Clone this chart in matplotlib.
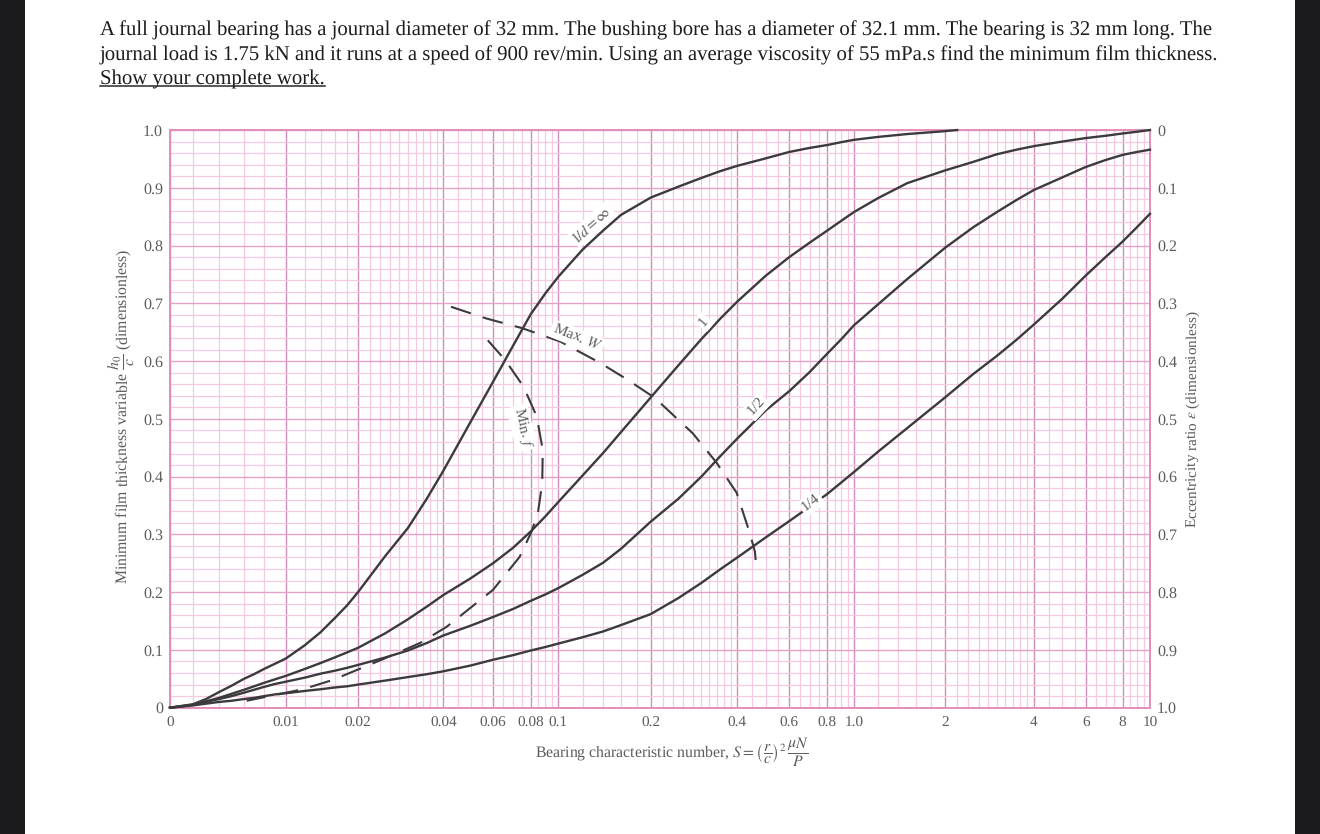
import matplotlib
matplotlib.use("Agg")
import matplotlib.pyplot as plt
import numpy as np
from matplotlib.lines import Line2D
from matplotlib.patches import Rectangle

plt.rcParams['font.family'] = ['Liberation Serif', 'DejaVu Serif']
plt.rcParams['mathtext.fontset'] = 'stix'
plt.rcParams['text.hinting'] = 'no_hinting'

# --- data ---
x_major = [0, 0.01, 0.02, 0.04, 0.06, 0.08, 0.1, 0.2, 0.4, 0.6, 0.8, 1, 2, 4, 6, 8, 10]
x_labels = ['0', '0.01', '0.02', '0.04', '0.06', '0.08', '0.1', '0.2', '0.4', '0.6', '0.8', '1.0',
            '2', '4', '6', '8', '10']
x_minor = [0.002, 0.004, 0.006, 0.008, 0.012, 0.014, 0.016, 0.018,
           0.022, 0.024, 0.026, 0.028, 0.03, 0.032, 0.034, 0.036, 0.038,
           0.045, 0.05, 0.055, 0.065, 0.07, 0.075, 0.085, 0.09, 0.095,
           0.12, 0.14, 0.16, 0.18, 0.22, 0.24, 0.26, 0.28, 0.3, 0.32, 0.34, 0.36, 0.38,
           0.45, 0.5, 0.55, 0.65, 0.7, 0.75, 0.85, 0.9, 0.95,
           1.2, 1.4, 1.6, 1.8, 2.2, 2.4, 2.6, 2.8, 3, 3.2, 3.4, 3.6, 3.8,
           4.5, 5, 5.5, 6.5, 7, 7.5, 8.5, 9, 9.5]
y_major = [0, 0.1, 0.2, 0.3, 0.4, 0.5, 0.6, 0.7, 0.8, 0.9, 1.0]
y_minor = [0.02, 0.04, 0.06, 0.08, 0.12, 0.14, 0.16, 0.18, 0.22, 0.24, 0.26, 0.28,
           0.32, 0.34, 0.36, 0.38, 0.42, 0.44, 0.46, 0.48, 0.52, 0.54, 0.56, 0.58,
           0.62, 0.64, 0.66, 0.68, 0.72, 0.74, 0.76, 0.78, 0.82, 0.84, 0.86, 0.88,
           0.92, 0.94, 0.96, 0.98]
y_left_labels = ['0', '0.1', '0.2', '0.3', '0.4', '0.5', '0.6', '0.7', '0.8', '0.9', '1.0']
y_right_labels = ['1.0', '0.9', '0.8', '0.7', '0.6', '0.5', '0.4', '0.3', '0.2', '0.1', '0']

S = [0, 0.002, 0.003, 0.004, 0.005, 0.006, 0.007, 0.008, 0.009, 0.01,
     0.012, 0.014, 0.016, 0.018, 0.02, 0.025, 0.03, 0.035, 0.04, 0.05,
     0.06, 0.07, 0.08, 0.09, 0.1, 0.12, 0.14, 0.16, 0.2, 0.25,
     0.3, 0.35, 0.4, 0.5, 0.6, 0.7, 0.8, 0.9, 1, 1.2,
     1.5, 2, 2.5, 3, 3.5, 4, 5, 6, 7, 8, 9, 10]
h_inf = [0, 0.006, 0.015, 0.027, 0.038, 0.05, 0.058, 0.067, 0.076, 0.085,
         0.108, 0.131, 0.155, 0.177, 0.2, 0.263, 0.311, 0.362, 0.41, 0.495,
         0.564, 0.627, 0.681, 0.717, 0.746, 0.793, 0.826, 0.853, 0.883, 0.902,
         0.917, 0.929, 0.938, 0.951, 0.962, 0.969, 0.974, 0.979, 0.983, 0.988,
         0.993, 0.998, 1.0]
S_inf = S[:42] + [2.2]
h_1 = [0, 0.005, 0.011, 0.017, 0.024, 0.031, 0.037, 0.043, 0.049, 0.055,
       0.067, 0.0775, 0.087, 0.0957, 0.1036, 0.129, 0.153, 0.175, 0.195, 0.224,
       0.25, 0.277, 0.305, 0.331, 0.356, 0.402, 0.441, 0.477, 0.537, 0.593,
       0.638, 0.674, 0.703, 0.748, 0.78, 0.805, 0.826, 0.843, 0.858, 0.882,
       0.908, 0.93, 0.945, 0.958, 0.966, 0.972, 0.98, 0.986, 0.99, 0.994, 0.997, 1.0]
h_half = [0, 0.005, 0.01, 0.015, 0.02, 0.026, 0.031, 0.036, 0.041, 0.045,
          0.052, 0.059, 0.064, 0.069, 0.074, 0.087, 0.099, 0.112, 0.125, 0.142,
          0.157, 0.171, 0.185, 0.196, 0.207, 0.23, 0.251, 0.275, 0.322, 0.362,
          0.40, 0.436, 0.466, 0.515, 0.548, 0.581, 0.613, 0.638, 0.662, 0.698,
          0.742, 0.796, 0.832, 0.858, 0.879, 0.896, 0.918, 0.936, 0.948, 0.957, 0.962, 0.966]
h_quarter = [0, 0.004, 0.007, 0.01, 0.012, 0.015, 0.017, 0.02, 0.023, 0.025,
             0.029, 0.032, 0.035, 0.037, 0.04, 0.047, 0.053, 0.058, 0.063, 0.073,
             0.083, 0.091, 0.099, 0.105, 0.111, 0.122, 0.132, 0.143, 0.162, 0.19,
             0.216, 0.24, 0.26, 0.295, 0.323, 0.348, 0.37, 0.39, 0.408, 0.443,
             0.484, 0.537, 0.578, 0.609, 0.637, 0.663, 0.708, 0.748, 0.78, 0.807, 0.832, 0.855]

S_maxw = [0.0426, 0.0566, 0.0749, 0.1013, 0.1367, 0.169, 0.207, 0.28, 0.339, 0.398, 0.441, 0.459, 0.465]
h_maxw = [0.694, 0.674, 0.657, 0.634, 0.597, 0.567, 0.536, 0.475, 0.424, 0.372, 0.302, 0.27, 0.235]
S_minf = [0.0575, 0.0658, 0.0757, 0.084, 0.0882, 0.0878, 0.0848, 0.0806, 0.0735, 0.06, 0.0411,
          0.0331, 0.0245, 0.0157, 0.0118, 0.00627]
h_minf = [0.636, 0.602, 0.556, 0.504, 0.446, 0.389, 0.337, 0.305, 0.261, 0.204, 0.140,
          0.112, 0.084, 0.048, 0.032, 0.012]

question = ["A full journal bearing has a journal diameter of 32 mm. The bushing bore has a diameter of 32.1 mm. The bearing is 32 mm long. The",
            "journal load is 1.75 kN and it runs at a speed of 900 rev/min. Using an average viscosity of 55 mPa.s find the minimum film thickness.",
            "Show your complete work."]

W, H = 1320, 834
INK = '#3b3a3d'
LABEL = '#5c5c5c'

# the printed S axis is only roughly logarithmic, so knots are taken from the paper
low_vals = np.array([0, 0.002, 0.004, 0.006, 0.008, 0.01])
low_pos = np.array([170, 193, 219, 244, 264, 285.7])
high_vals = np.log10([0.01, 0.02, 0.04, 0.06, 0.08, 0.1, 0.2, 0.4, 0.6, 0.8, 1, 2, 4, 6, 8, 10])
high_pos = np.array([285.7, 358, 443.3, 493, 530.7, 558.3, 650.7, 737.3, 789.3, 827.3, 854,
                     945, 1033.7, 1085.7, 1122.7, 1150])


def s_forward(x):
    x = np.asarray(x, dtype=float)
    high = np.interp(np.log10(np.clip(x, 1e-4, None)), high_vals, high_pos)
    return np.where(x < 0.01, np.interp(x, low_vals, low_pos), high)


def s_inverse(p):
    p = np.asarray(p, dtype=float)
    high = 10 ** np.interp(p, high_pos, high_vals)
    return np.where(p < 285.7, np.interp(p, low_pos, low_vals), high)


fig = plt.figure(figsize=(W / 100, H / 100), dpi=100, facecolor='white')
ax = fig.add_axes([170 / W, 1 - 707.7 / H, (1150 - 170) / W, (707.7 - 130) / H])
ax.set_xscale('function', functions=(s_forward, s_inverse))
ax.set_xlim(0, 10)
ax.set_ylim(0, 1)

ax.set_xticks(x_major, x_labels)
ax.set_xticks(x_minor, minor=True)
ax.set_yticks(y_major, y_left_labels)
ax.set_yticks(y_minor, minor=True)
ax.set_axisbelow(True)
ax.grid(which='minor', color='#f5cae0', lw=0.9)
ax.grid(which='major', axis='y', color='#e5a2c7', lw=1.0)
ax.grid(which='major', axis='x', color='#d08fba', lw=1.0)
ax.tick_params(which='both', length=0)
ax.tick_params(axis='x', labelsize=11, labelcolor=LABEL, pad=6)
ax.tick_params(axis='y', labelsize=11.5, labelcolor=LABEL, pad=5)
for s in ax.spines.values():
    s.set_color('#e48dbb')
    s.set_linewidth(1.4)

for xs, ys in [(S_inf, h_inf), (S, h_1), (S, h_half), (S, h_quarter)]:
    ax.plot(xs, ys, color=INK, lw=1.7, solid_joinstyle='round', clip_on=False, zorder=3)
ax.plot(S_maxw, h_maxw, color=INK, lw=1.5, linestyle=(0, (10, 6)), zorder=3)
ax.plot(S_minf, h_minf, color=INK, lw=1.5, linestyle=(0, (10, 6)), zorder=3)

# right hand scale
ax2 = ax.twinx()
ax2.set_ylim(0, 1)
ax2.set_yticks(y_major, y_right_labels)
ax2.tick_params(length=0, labelsize=11.5, labelcolor=LABEL, pad=5)
for s in ax2.spines.values():
    s.set_visible(False)

# curve labels sit on white patches
box = dict(fc='white', ec='none', pad=1.5)
curve_labels = [(0.129, 0.836, r'$\mathrm{l}/d = \infty$', 41),
                (0.115, 0.64, 'Max. $W$', -22),
                (0.306, 0.668, '1', 50),
                (0.465, 0.521, '1/2', 47),
                (0.708, 0.354, '1/4', 38),
                (0.0749, 0.484, 'Min. $f$', -76)]
for cx, cy, txt, rot in curve_labels:
    ax2.text(cx, cy, txt, rotation=rot, ha='center', va='center', rotation_mode='anchor',
             fontsize=11, color=LABEL, bbox=box, zorder=4)

fig.text(121 / W, 1 - 416 / H, r'Minimum film thickness variable $\dfrac{h_0}{c}$ (dimensionless)',
         rotation=90, ha='center', va='center', fontsize=11.3, color=LABEL)
fig.text(1193 / W, 1 - 419 / H, r'Eccentricity ratio $\epsilon$ (dimensionless)',
         rotation=90, ha='center', va='center', fontsize=11, color=LABEL)
fig.text(672 / W, 1 - 752 / H,
         r'Bearing characteristic number, $S = \left(\dfrac{r}{c}\right)^2\,\dfrac{\mu N}{P}$',
         ha='center', va='center', fontsize=11.3, color=LABEL)

# question text above the chart
for line, base in zip(question, [35.5, 60, 84]):
    fig.text(100 / W, 1 - base / H, line, ha='left', va='baseline', fontsize=14.97, color='#1d1d1d')
fig.add_artist(Line2D([100 / W, 324.5 / W], [1 - 86 / H, 1 - 86 / H], color='#2a2a2a', lw=1.1))

# dark side bars of the screenshot
fig.add_artist(Rectangle((0, 0), 25 / W, 1, transform=fig.transFigure, fc='#1b1b1d', ec='none'))
fig.add_artist(Rectangle((1295 / W, 0), 25 / W, 1, transform=fig.transFigure, fc='#1b1b1d', ec='none'))

fig.savefig('out.png', dpi=100)
